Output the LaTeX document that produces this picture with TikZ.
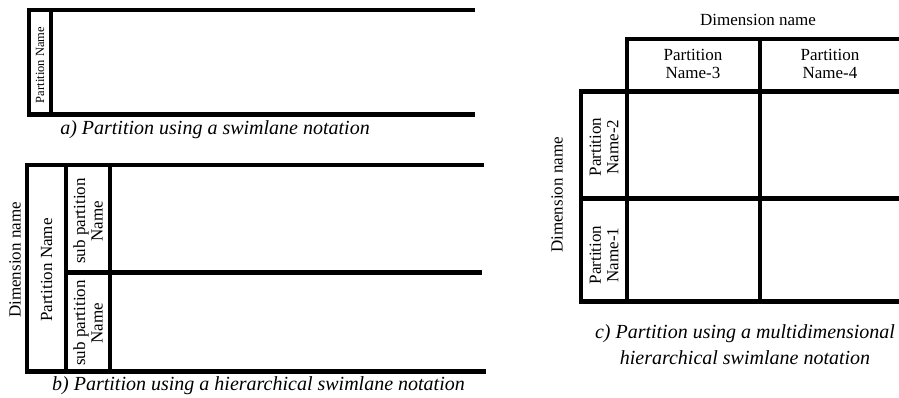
\documentclass[tikz,border=0pt]{standalone}
\usepackage{fontspec}
\setmainfont{Liberation Serif}
\begin{document}
\begin{tikzpicture}[x=1pt,y=-1pt,
  lane/.style={line width=4.6pt, line join=miter, black},
  lbl/.style={font=\fontsize{17}{17.5}\selectfont, align=center, inner sep=0pt},
  rlbl/.style={lbl, rotate=90},
  captext/.style={font=\fontsize{20}{26}\selectfont\itshape, align=center, inner sep=0pt}]
\useasboundingbox (0,0) rectangle (899,398);
% ---- a) ----
\draw[lane] (475,10) -- (29,10) -- (29,114.5) -- (475,114.5);
\draw[lane] (51,10) -- (51,114.5);
\node[rlbl, font=\fontsize{12.5}{13}\selectfont] (apn) at (40,65) {Partition Name};
\node[captext] (capa) at (215,130) {a) Partition using a swimlane notation};
% ---- b) ----
\draw[lane] (484,165) -- (27,165) -- (27,371.5) -- (486,371.5);
\draw[lane] (66,165) -- (66,371.5);
\draw[lane] (110,165) -- (110,371.5);
\draw[lane] (66,272.5) -- (482,272.5);
\node[rlbl] (bdim) at (15,260) {Dimension name};
\node[rlbl] (bpn) at (46.5,270) {Partition Name};
\node[rlbl] (bsub1) at (88,221) {sub partition\\Name};
\node[rlbl] (bsub2) at (88,323) {sub partition\\Name};
\node[captext] (capb) at (258.5,386) {b) Partition using a hierarchical swimlane notation};
% ---- c) ----
\draw[lane] (899,39) -- (627,39) -- (627,301.5);
\draw[lane] (899,91.5) -- (581,91.5) -- (581,301.5) -- (899,301.5);
\draw[lane] (760,39) -- (760,301.5);
\draw[lane] (581,198.5) -- (899,198.5);
\node[lbl] (cdimt) at (758,20) {Dimension name};
\node[rlbl] (cdiml) at (557,195) {Dimension name};
\node[lbl] (cp3) at (693,64) {Partition\\Name-3};
\node[lbl] (cp4) at (830,64) {Partition\\Name-4};
\node[rlbl] (cp2) at (604,147) {Partition\\Name-2};
\node[rlbl] (cp1) at (604,255) {Partition\\Name-1};
\node[captext] (capc) at (745,345) {c) Partition using a multidimensional\\hierarchical swimlane notation};
\end{tikzpicture}
\end{document}
